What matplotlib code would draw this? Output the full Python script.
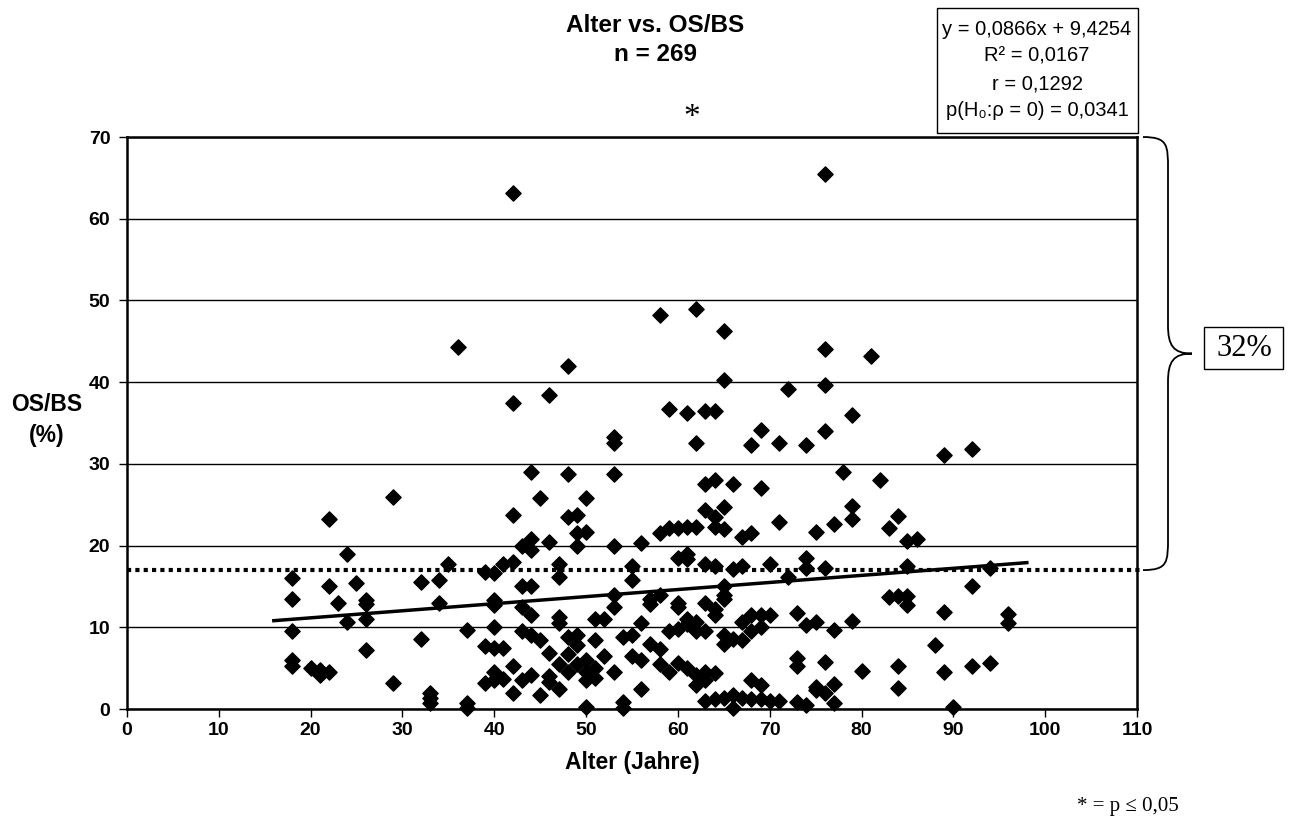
import numpy as np
import matplotlib.pyplot as plt
from matplotlib.path import Path
from matplotlib.patches import PathPatch, Rectangle
from matplotlib.transforms import blended_transform_factory

# Alter (Jahre) -> OS/BS (%) values, grouped by age
punkte = {
    18: [16, 13.5, 9.5, 6, 5.3],
    20: [5], 21: [4.5, 4.8, 4.2], 22: [23.3, 15, 4.5], 23: [13],
    24: [19, 10.7], 25: [15.4], 26: [13.3, 12.8, 11, 7.2],
    29: [26, 3.2], 32: [15.6, 8.6], 33: [2, 1.3, 0.7], 34: [15.8, 13],
    35: [17.8], 36: [44.3], 37: [9.7, 0.7, 0.1], 39: [16.8, 7.7, 3.2],
    40: [16.7, 13.3, 12.7, 10, 7.5, 4.5, 3.5], 41: [17.8, 7.5, 3.7],
    42: [63.2, 37.5, 23.7, 18, 5.3, 2], 43: [20, 15, 12.5, 9.5, 3.5],
    44: [29, 20.8, 19.5, 15, 11.5, 9, 4.2], 45: [25.8, 8.5, 1.7],
    46: [38.4, 20.5, 6.8, 4, 3.3], 47: [17.8, 16.2, 11.3, 10.5, 5.5, 2.5],
    48: [42, 28.8, 23.5, 8.8, 6.7, 4.5], 49: [23.8, 21.5, 20, 9, 7.8, 5.5],
    50: [25.8, 21.7, 6, 4.5, 3.5, 0.2], 51: [11, 8.5, 5, 3.8], 52: [11, 6.5],
    53: [33.3, 32.5, 28.8, 20, 14, 12.5, 4.5], 54: [8.8, 0.8, 0.1],
    55: [17.5, 15.8, 9, 6.5], 56: [20.3, 10.5, 6, 2.5], 57: [13.5, 12.8, 8],
    58: [48.2, 21.5, 14, 7.3, 5.5], 59: [36.7, 22.2, 9.5, 4.5],
    60: [22.2, 18.5, 13, 12.5, 9.8, 5.6],
    61: [36.2, 22.3, 19, 18.3, 11, 10.4, 5],
    62: [49, 32.6, 22.3, 10.7, 9.5, 4.2, 3],
    63: [36.5, 27.5, 24.3, 17.7, 13, 9.5, 4.5, 3.5, 1],
    64: [36.5, 28, 23.5, 22.3, 17.5, 12.2, 11.5, 4.4, 1.2],
    65: [46.3, 40.3, 24.7, 22, 15, 14, 13.5, 9, 8, 1.3],
    66: [27.5, 17.1, 8.6, 1.7, 0.1], 67: [21, 17.5, 10.7, 8.5, 1.4],
    68: [32.3, 21.5, 11.5, 9.5, 3.6, 1.2], 69: [34.2, 27, 11.5, 10, 3, 1.2],
    70: [17.7, 11.5, 1.0], 71: [32.6, 22.9, 1.0], 72: [39.2, 16.2],
    73: [11.7, 6.3, 5.3, 0.8], 74: [32.3, 18.5, 17.3, 10.3, 0.5],
    75: [21.7, 10.7, 2.7, 2.3], 76: [65.5, 44, 39.6, 34, 17.3, 5.7, 2],
    77: [22.7, 9.7, 3.1, 0.7], 78: [29], 79: [36, 24.8, 23.3, 10.8],
    80: [4.7], 81: [43.2], 82: [28], 83: [22.2, 13.7],
    84: [23.6, 13.8, 5.3, 2.6], 85: [20.6, 17.5, 13.8, 12.7], 86: [20.8],
    88: [7.8], 89: [31.1, 11.9, 4.5], 90: [0.2], 92: [31.8, 15.1, 5.3],
    94: [17.3, 5.6], 96: [11.6, 10.5],
}
alter = np.array([a for a, v in punkte.items() for _ in v], dtype=float)
osbs = np.array([y for v in punkte.values() for y in v])

steigung, achse = 0.0866, 9.4254
trend_x = [16, 98]
median_linie = 17

plt.rcParams['font.family'] = ['Liberation Sans', 'DejaVu Sans']
W, H = 1290, 823
fig = plt.figure(figsize=(12.9, 8.23), dpi=100)
ax = fig.add_axes([0.0984, 0.1385, 0.7830, 0.6950])

ax.scatter(alter, osbs, marker='D', s=60, color='black', zorder=3, clip_on=False)
tx = np.array(trend_x)
ax.plot(tx, steigung * tx + achse, color='black', lw=2.5, zorder=4)
ax.plot([0, 110.7], [median_linie, median_linie], color='black', lw=3,
        linestyle=(0, (1, 1)), clip_on=False, zorder=4)

ax.set_xlim(0, 110)
ax.set_ylim(0, 70)
ax.set_xticks(range(0, 111, 10))
ax.set_yticks(range(0, 71, 10))
ax.yaxis.grid(True, color='black', lw=1)
ax.set_axisbelow(True)
for s in ax.spines.values():
    s.set_linewidth(1.8)
ax.tick_params(direction='out', length=6, width=1, labelsize=14, pad=6)
ax.tick_params(axis='x', pad=3)
for lab in ax.get_xticklabels() + ax.get_yticklabels():
    lab.set_fontweight('bold')
ax.set_xlabel('Alter (Jahre)', fontsize=16.5, fontweight='bold', labelpad=9)

fig.text(47 / W, 1 - 420 / H, 'OS/BS\n(%)', fontsize=16.5, fontweight='bold',
         ha='center', va='center', linespacing=1.4)
fig.text(655 / W, 1 - 40 / H, 'Alter vs. OS/BS\nn = 269', fontsize=17.5,
         fontweight='bold', ha='center', va='center', linespacing=1.35)
fig.text(692 / W, 1 - 118 / H, '*', fontsize=24, family='Liberation Serif',
         ha='center', va='center')

# box with the regression statistics
fig.patches.append(Rectangle((937 / W, 1 - 133 / H), 201 / W, 125 / H,
                             transform=fig.transFigure, fc='white', ec='black', lw=1))
fig.text(1037 / W, 1 - 70 / H,
         'y = 0,0866x + 9,4254\nR² = 0,0167\nr = 0,1292\np(H₀:ρ = 0) = 0,0341',
         fontsize=14.5, ha='center', va='center', linespacing=1.55)

fig.text(1128 / W, 1 - 806 / H, '* = p ≤ 0,05', fontsize=15,
         family=['Liberation Serif', 'DejaVu Serif'], ha='center', va='center')

fig.patches.append(Rectangle((1204 / W, 1 - 369 / H), 79 / W, 42 / H,
                             transform=fig.transFigure, fc='white', ec='black', lw=1))
fig.text(1244 / W, 1 - 349 / H, '32%', fontsize=22, family='Liberation Serif',
         ha='center', va='center')

# curly brace from the dotted line up to the top of the plot
tr = blended_transform_factory(fig.transFigure, ax.transData)
x0, x1, xt = 1143 / W, 1168 / W, 1192 / W
top, bot = 70, median_linie
mid = (top + bot) / 2
verts = [(x0, top), (x1, top), (x1, top - 1), (x1, top - 4),
         (x1, mid + 3.5),
         (x1, mid + 1), (x1 + 0.004, mid), (xt, mid),
         (x1 + 0.004, mid), (x1, mid - 1), (x1, mid - 3.5),
         (x1, bot + 4),
         (x1, bot + 1), (x1, bot), (x0, bot)]
codes = [Path.MOVETO, Path.CURVE4, Path.CURVE4, Path.CURVE4, Path.LINETO,
         Path.CURVE4, Path.CURVE4, Path.CURVE4,
         Path.CURVE4, Path.CURVE4, Path.CURVE4, Path.LINETO,
         Path.CURVE4, Path.CURVE4, Path.CURVE4]
fig.patches.append(PathPatch(Path(verts, codes), transform=tr, fc='none',
                             ec='black', lw=1.3))

fig.savefig('out.png', dpi=100)
